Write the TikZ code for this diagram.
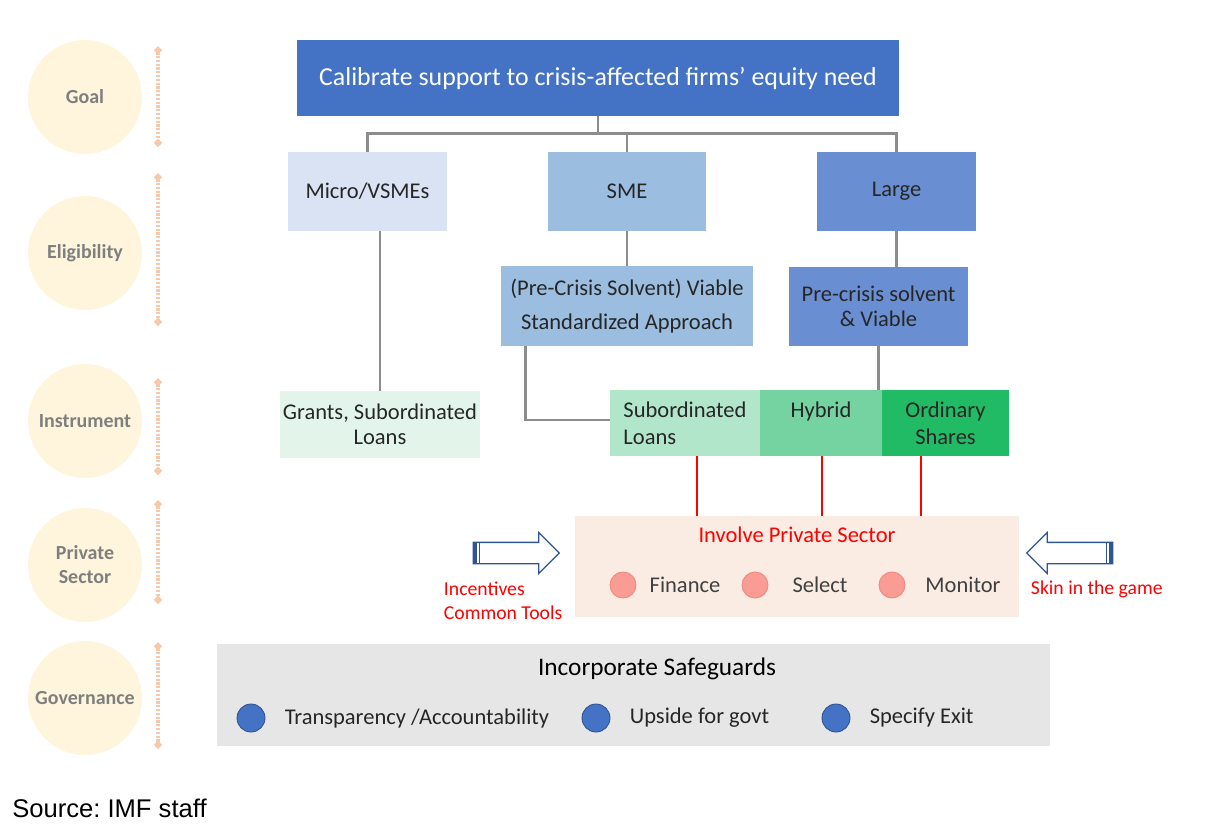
\documentclass[tikz,border=0pt]{standalone}
\usepackage{fontspec}
\setmainfont{Carlito}
\newfontfamily\arialfont{Liberation Sans}
\usetikzlibrary{arrows.meta,shapes.arrows}

\definecolor{paleyellow}{HTML}{FEF5DC}
\definecolor{sidegrey}{HTML}{7F7F7F}
\definecolor{dotpeach}{HTML}{F8C9A9}
\definecolor{topblue}{HTML}{4472C4}
\definecolor{microfill}{HTML}{DAE3F3}
\definecolor{smefill}{HTML}{9BBDDF}
\definecolor{largefill}{HTML}{6A8ED2}
\definecolor{grantsfill}{HTML}{E3F5EB}
\definecolor{subfill}{HTML}{B2E6CB}
\definecolor{hybridfill}{HTML}{74D3A1}
\definecolor{sharesfill}{HTML}{21BA65}
\definecolor{privfill}{HTML}{FBECE3}
\definecolor{govfill}{HTML}{E7E6E6}
\definecolor{linegrey}{HTML}{8C8C8C}
\definecolor{arrowblue}{HTML}{2F5597}
\definecolor{boxtext}{HTML}{262626}
\definecolor{dottext}{HTML}{404040}
\definecolor{pinkdot}{HTML}{F99C94}
\definecolor{pinkline}{HTML}{F2847C}
\definecolor{dotblue}{HTML}{2F528F}

\begin{document}
\begin{tikzpicture}[x=0.025cm,y=-0.025cm]
   \useasboundingbox (0,0) rectangle (1215,825);
   \tikzstyle{side}=[circle, fill=paleyellow, minimum size=2.85cm, inner sep=0pt, align=center, text=sidegrey, font=\fontsize{14.2}{17}\selectfont\bfseries]
   \tikzstyle{dotline}=[draw=dotpeach, line width=2.2pt, dash pattern=on 1.6pt off 1.1pt, {Diamond[length=6pt,width=6pt]}-{Diamond[length=6pt,width=6pt]}]
   \tikzstyle{box}=[rectangle, inner sep=0pt, align=center, text=boxtext, font=\fontsize{16}{18}\selectfont]
   \tikzstyle{conn}=[draw=linegrey, line width=1.8pt]
   \tikzstyle{redline}=[draw=red, line width=1.7pt]
   \tikzstyle{redtext}=[text=red, font=\fontsize{14}{17}\selectfont]
   \tikzstyle{blockarrow}=[single arrow, draw=arrowblue, fill=white, line width=0.9pt, inner xsep=0pt, inner ysep=0.25cm, minimum height=2.15cm, single arrow head extend=0.25cm, single arrow tip angle=90]
   \tikzstyle{pinkdot}=[circle, fill=pinkdot, draw=pinkline, line width=0.6pt, minimum size=0.65cm, inner sep=0pt]
   \tikzstyle{bluedot}=[circle, fill=topblue, draw=dotblue, line width=0.6pt, minimum size=0.7cm, inner sep=0pt]
   \tikzstyle{dotlabel}=[text=dottext, font=\fontsize{16}{18}\selectfont]

   \foreach \y/\name/\txt in {97/goal/Goal,253/elig/Eligibility,421/instr/Instrument,565/privside/{Private\\Sector},698/govside/Governance}
       \node[side] (\name) at (85,\y) {\txt};
   \foreach \a/\b in {46/147,173/326,378/475,500/604,642/749}
       \draw[dotline] (158,\a) -- (158,\b);

   \node[box, fill=topblue, text=white, minimum width=15.05cm, minimum height=1.9cm, font=\fontsize{18.4}{21}\selectfont] (calib) at (598,78) {Calibrate support to crisis-affected firms’ equity need};
   \node[box, fill=microfill, minimum width=3.975cm, minimum height=1.975cm] (micro) at (367.5,191.5) {Micro/VSMEs};
   \node[box, fill=smefill, minimum width=3.95cm, minimum height=1.975cm] (sme) at (627,191.5) {SME};
   \node[box, fill=largefill, minimum width=3.975cm, minimum height=1.975cm] (large) at (896.5,191.5) {Large};
   \node[box, fill=smefill, minimum width=6.3cm, minimum height=2cm, font=\fontsize{16}{24}\selectfont] (viable) at (627,306) {(Pre-Crisis Solvent) Viable\\Standardized Approach};
   \node[box, fill=largefill, minimum width=4.475cm, minimum height=1.975cm] (solvent) at (878.5,306.5) {Pre-crisis solvent\\\& Viable};
   \node[box, fill=grantsfill, minimum width=5cm, minimum height=1.675cm] (grants) at (380,424.5) {Grants, Subordinated\\Loans};
   \node[box, fill=subfill, minimum width=3.75cm, minimum height=1.65cm, align=left, font=\fontsize{16}{19}\selectfont] (subloans) at (685,423) {Subordinated\\Loans};
   \node[box, fill=hybridfill, minimum width=3.05cm, minimum height=1.65cm, font=\fontsize{16}{19}\selectfont] (hybrid) at (821,423) {Hybrid\\\mbox{}};
   \node[box, fill=sharesfill, minimum width=3.175cm, minimum height=1.65cm, font=\fontsize{16}{19}\selectfont] (shares) at (945.5,423) {Ordinary\\Shares};

   \foreach \n in {micro,sme,large}
       \draw[conn] (calib.south) -- ++(0,17) -| (\n.north);
   \draw[conn] (sme.south) -- (viable.north);
   \draw[conn] (large.south) -- (large.south |- solvent.north);
   \draw[conn] (grants.north |- micro.south) -- (grants.north);
   \draw[conn] ([xshift=0.625cm]viable.south west) |- ([yshift=0.075cm]subloans.west);
   \draw[conn] (solvent.south) -- (solvent.south |- hybrid.north);

   \node[box, fill=privfill, minimum width=11.1cm, minimum height=2.525cm] (private) at (797,566.5) {};
   \foreach \n/\dx in {subloans/0.3cm,hybrid/0.025cm,shares/-0.6125cm}
       \draw[redline] ([xshift=\dx]\n.south) -- ([xshift=\dx]\n.south |- private.north);
   \node[text=red, font=\fontsize{16}{18}\selectfont] (involve) at (797,535) {Involve Private Sector};
   \foreach \x/\lx/\name/\txt in {623/685/fin/Finance,755/820/sel/Select,892/963/mon/Monitor} {
       \node[pinkdot] (\name) at (\x,585) {};
       \node[dotlabel] (lab\name) at (\lx,585) {\txt};
   }

   \node[blockarrow] (inarrow) at (511,553) {};
   \draw[arrowblue, line width=2.2pt] ([xshift=2pt]inarrow.before tail) -- ([xshift=2pt]inarrow.after tail);
   \draw[arrowblue, line width=0.8pt] ([xshift=4.8pt]inarrow.before tail) -- ([xshift=4.8pt]inarrow.after tail);
   \node[blockarrow, shape border rotate=180] (outarrow) at (1075,553) {};
   \draw[arrowblue, line width=2.2pt] ([xshift=-2pt]outarrow.before tail) -- ([xshift=-2pt]outarrow.after tail);
   \draw[arrowblue, line width=0.8pt] ([xshift=-4.8pt]outarrow.before tail) -- ([xshift=-4.8pt]outarrow.after tail);
   \node[redtext, anchor=west, align=left] (incent) at (439,601) {Incentives\\Common Tools};
   \node[redtext, anchor=west] (skin) at (1026,589) {Skin in the game};

   \node[box, fill=govfill, minimum width=20.825cm, minimum height=2.55cm] (govern) at (633.5,695) {};
   \node[text=black, font=\fontsize{18}{20}\selectfont] (safe) at (657,669) {Incorporate Safeguards};
   \foreach \x/\name/\txt in {251/transp/{Transparency /Accountability},596/upside/Upside for govt,836/exit/Specify Exit} {
       \node[bluedot] (\name) at (\x,718) {};
       \node[dotlabel, text=boxtext, anchor=west] (lab\name) at ([xshift=0.36cm]\name.east) {\txt};
   }

   \node[anchor=west, inner sep=0pt, font=\arialfont\fontsize{18.2}{20}\selectfont\frenchspacing] (source) at (12,808) {Source: IMF staff};
\end{tikzpicture}
\end{document}
